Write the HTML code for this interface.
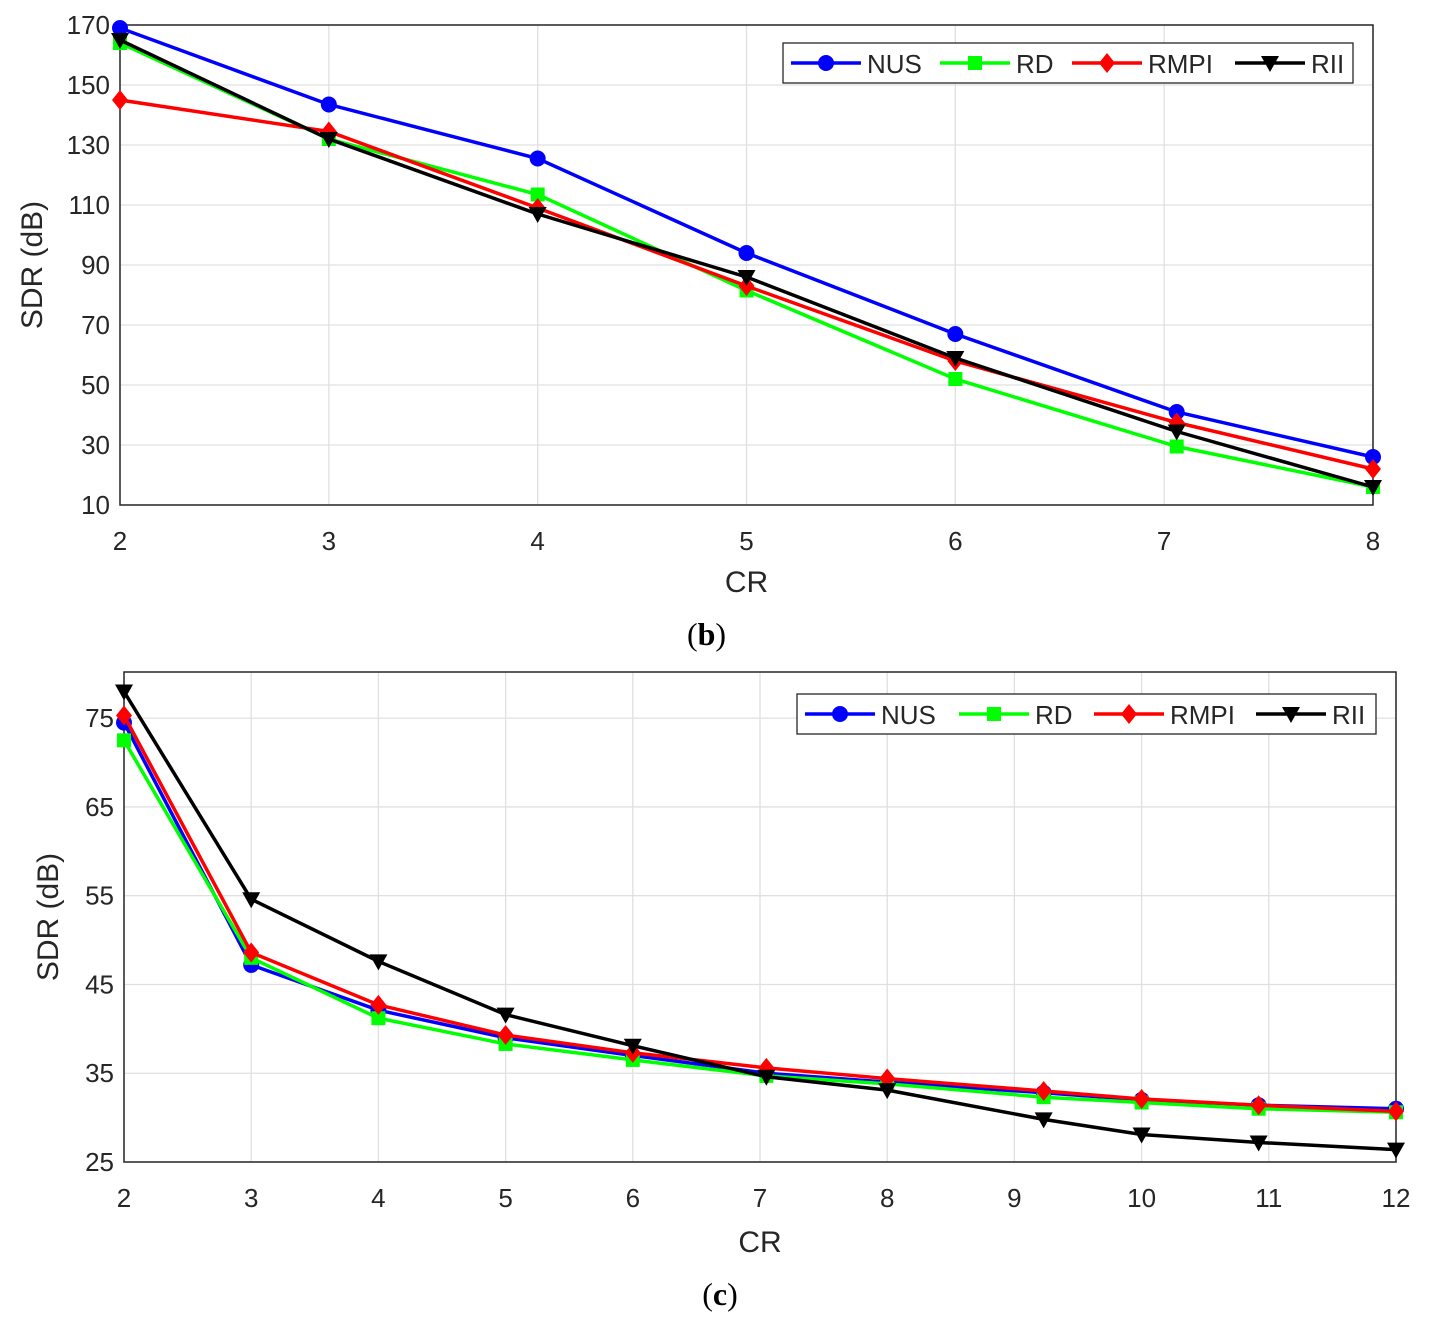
<!DOCTYPE html>
<html><head><meta charset="utf-8"><style>
body{margin:0;background:#fff}
svg{display:block}
text{font-family:"Liberation Sans",sans-serif;fill:#262626}
</style></head><body>
<svg id="s" width="1430" height="1329" viewBox="0 0 1430 1329"></svg>
<script>
// Chart (b) data
const crB = [2,3,4,5,6,7.06,8];
const nusB = [169,143.5,125.5,94,67,41,26];
const rdB = [164,132,113.5,81.5,52,29.5,16];
const rmpiB = [145,134.5,109,83,58,37.5,22];
const riiB = [165,132,107,86,59,34.5,16];
const xTicksB = [2,3,4,5,6,7,8];
const yTicksB = [10,30,50,70,90,110,130,150,170];
// Chart (c) data
const crC = [2,3,4,5,6,7.05,8,9.23,10,10.92,12];
const nusC = [74.5,47.2,42.1,39,37,35,34,32.8,32,31.4,31];
const rdC = [72.5,48,41.2,38.3,36.5,34.7,33.8,32.3,31.7,31,30.6];
const rmpiC = [75.3,48.6,42.7,39.3,37.3,35.6,34.4,33,32.1,31.4,30.7];
const riiC = [78,54.6,47.6,41.6,38.1,34.6,33.1,29.8,28.1,27.2,26.4];
const xTicksC = [2,3,4,5,6,7,8,9,10,11,12];
const yTicksC = [25,35,45,55,65,75];
const seriesNames = ["NUS","RD","RMPI","RII"];

const NS="http://www.w3.org/2000/svg";
const svg=document.getElementById('s');
function mk(tag,attrs,parent){const e=document.createElementNS(NS,tag);for(const k in attrs)e.setAttribute(k,attrs[k]);(parent||svg).appendChild(e);return e;}
function marker(g,type,x,y,color){
  let m;
  if(type==='o') m=mk('circle',{cx:x,cy:y,r:8,fill:color},g);
  else if(type==='s') m=mk('rect',{x:x-7,y:y-7,width:14,height:14,fill:color},g);
  else if(type==='d') m=mk('polygon',{points:`${x},${y-10} ${x+8},${y} ${x},${y+10} ${x-8},${y}`,fill:color},g);
  else m=mk('polygon',{points:`${x-9},${y-7} ${x+9},${y-7} ${x},${y+9}`,fill:color},g);
  return m;
}
const styles=[{c:'#0000ff',m:'o'},{c:'#00ff00',m:'s'},{c:'#ff0000',m:'d'},{c:'#000000',m:'v'}];

function chart(cfg){
  const {L,R,T,B,xmin,xmax,ymin,ymax,xs,ys,xt,yt,name,ylabX,legend,cap,capY,xlabY}=cfg;
  const g=mk('g',{});
  
  
  const X=v=>L+(v-xmin)/(xmax-xmin)*(R-L);
  const Y=v=>B-(v-ymin)/(ymax-ymin)*(B-T);
  mk('rect',{x:L,y:T,width:R-L,height:B-T,fill:'#fff'},g);
  xt.forEach(t=>{
    const l=mk('line',{x1:X(t),x2:X(t),y1:T,y2:B,stroke:'#e0e0e0','stroke-width':1.3},g);
    
    const tx=mk('text',{x:X(t),y:B+45,'text-anchor':'middle','font-size':26},g);tx.textContent=t;
    
  });
  yt.forEach(t=>{
    const l=mk('line',{x1:L,x2:R,y1:Y(t),y2:Y(t),stroke:'#e0e0e0','stroke-width':1.3},g);
    
    const tx=mk('text',{x:L-10,y:Y(t)+9,'text-anchor':'end','font-size':26},g);tx.textContent=t;
    
  });
  mk('rect',{x:L,y:T,width:R-L,height:B-T,fill:'none',stroke:'#262626','stroke-width':1.5},g);
  ys.forEach((arr,i)=>{
    const st=styles[i];
    const pl=mk('polyline',{points:arr.map((v,j)=>X(xs[j])+','+Y(v)).join(' '),fill:'none',stroke:st.c,'stroke-width':3.5},g);
    
    
    arr.forEach((v,j)=>{const m=marker(g,st.m,X(xs[j]),Y(v),st.c);
      
      });
  });
  // legend
  const lg=mk('g',{},g);
  
  mk('rect',{x:legend.x,y:legend.y,width:legend.w,height:40,fill:'#fff',stroke:'#262626','stroke-width':1.3},lg);
  let cx=legend.x+8;
  seriesNames.forEach((n,i)=>{
    const st=styles[i];
    const e=mk('g',{},lg);
    
    mk('line',{x1:cx,x2:cx+70,y1:legend.y+20,y2:legend.y+20,stroke:st.c,'stroke-width':3.5},e);
    marker(e,st.m,cx+35,legend.y+20,st.c);
    const t=mk('text',{x:cx+76,y:legend.y+30,'font-size':26},e);t.textContent=n;
    cx+=76+legend.gaps[i];
  });
  const yl=mk('text',{x:ylabX,y:(T+B)/2,'text-anchor':'middle','font-size':30,transform:`rotate(-90 ${ylabX} ${(T+B)/2})`},g);
  yl.textContent='SDR (dB)';
  const xl=mk('text',{x:(L+R)/2,y:xlabY,'text-anchor':'middle','font-size':30},g);
  xl.textContent='CR';
  const c=mk('text',{x:(L+R)/2-40,y:capY,'text-anchor':'middle','font-size':32,style:'font-family:"Liberation Serif",serif;fill:#000'},g);
  c.innerHTML='(<tspan font-weight="bold">'+cap+'</tspan>)';
  
}
chart({L:120,R:1373,T:25,B:505,xmin:2,xmax:8,ymin:10,ymax:170,xs:crB,ys:[nusB,rdB,rmpiB,riiB],xt:xTicksB,yt:yTicksB,
  name:'chart-b',ylabX:42,xlabY:592,cap:'b',capY:645,legend:{x:783,y:43,w:570,gaps:[73,56,87]}});
chart({L:124,R:1396,T:672,B:1162,xmin:2,xmax:12,ymin:25,ymax:80.2,xs:crC,ys:[nusC,rdC,rmpiC,riiC],xt:xTicksC,yt:yTicksC,
  name:'chart-c',ylabX:58,xlabY:1252,cap:'c',capY:1305,legend:{x:797,y:694,w:579,gaps:[78,59,86]}});
</script>
</body></html>
